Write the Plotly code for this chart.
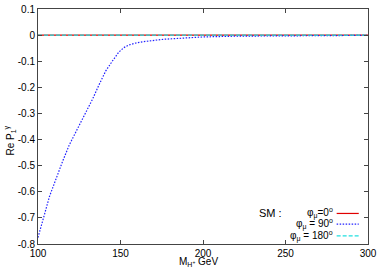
import plotly.graph_objects as go

# Data
mass = [100, 101, 104, 107, 111, 115, 119, 123, 125, 129, 133, 137, 141, 145,
        149, 152, 155, 160, 164, 176, 190, 200, 220, 250, 300]
re_p_90 = [-0.775, -0.75, -0.685, -0.617, -0.547, -0.482, -0.42, -0.37, -0.35, -0.30,
           -0.246, -0.19, -0.138, -0.10, -0.065, -0.048, -0.038, -0.029, -0.025, -0.016,
           -0.010, -0.007, -0.004, -0.002, -0.001]
mass_flat = [100, 300]
re_p_0 = [0, 0]
re_p_180 = [0, 0]

x_ticks = [100, 150, 200, 250, 300]
y_ticks = [0.1, 0, -0.1, -0.2, -0.3, -0.4, -0.5, -0.6, -0.7, -0.8]
y_labels = ["0.1", "0", "-0.1", "-0.2", "-0.3", "-0.4", "-0.5", "-0.6", "-0.7", "-0.8"]
legend_labels = ["φ<sub>μ</sub>=0<sup>o</sup>", "φ<sub>μ</sub> = 90<sup>o</sup>", "φ<sub>μ</sub> = 180<sup>o</sup>"]
legend_colors = ["#e00000", "#2020ff", "#20e0e0"]
legend_dash = ["solid", "1.5px,1.5px", "4px,2px"]

fig = go.Figure()
fig.add_trace(go.Scatter(x=mass_flat, y=re_p_0, mode="lines",
                         line=dict(color=legend_colors[0], width=1.2, dash=legend_dash[0])))
fig.add_trace(go.Scatter(x=mass, y=re_p_90, mode="lines",
                         line=dict(color=legend_colors[1], width=1.2, dash=legend_dash[1])))
fig.add_trace(go.Scatter(x=mass_flat, y=re_p_180, mode="lines",
                         line=dict(color=legend_colors[2], width=1.2, dash=legend_dash[2])))

font = dict(family="Liberation Sans, Arial, sans-serif", size=10, color="#000")

fig.update_layout(
    width=382, height=267,
    margin=dict(l=38, r=14, t=9, b=23, autoexpand=False),
    plot_bgcolor="white", paper_bgcolor="white",
    showlegend=False,
    font=font,
    xaxis=dict(range=[100, 300], tickvals=x_ticks, ticks="inside", ticklen=4,
               showline=True, linecolor="#444", linewidth=1, mirror="ticks",
               showgrid=False, zeroline=False, tickcolor="#444", automargin=False),
    yaxis=dict(range=[-0.8, 0.1], tickvals=y_ticks, ticktext=y_labels, ticks="inside",
               ticklen=4, showline=True, linecolor="#444", linewidth=1, mirror="ticks",
               showgrid=False, zeroline=False, tickcolor="#444", automargin=False),
)

annotations = [
    dict(text="M<sub>H<sup>+</sup></sub> GeV", xref="paper", yref="paper", x=0.485, y=-0.11,
         xanchor="center", yanchor="bottom", showarrow=False, font=font),
    dict(text="Re P<sub>1</sub><sup>γ</sup>", xref="paper", yref="paper", x=-0.085, y=0.44,
         xanchor="center", yanchor="middle", showarrow=False, textangle=-90, font=font),
    dict(text="SM :", xref="paper", yref="paper", x=0.705, y=0.13,
         xanchor="center", yanchor="middle", showarrow=False, font=dict(font, size=11)),
]
leg_y = [0.13, 0.085, 0.035]
for lab, yy in zip(legend_labels, leg_y):
    annotations.append(dict(text=lab, xref="paper", yref="paper", x=0.9, y=yy,
                            xanchor="right", yanchor="middle", showarrow=False, font=font))
shapes = []
for c, d, yy in zip(legend_colors, legend_dash, leg_y):
    shapes.append(dict(type="line", xref="paper", yref="paper", x0=0.905, x1=0.972,
                       y0=yy, y1=yy, line=dict(color=c, width=1.2, dash=d)))
fig.update_layout(annotations=annotations, shapes=shapes)

fig.write_html("out.html", config={"displayModeBar": False},
               post_script="document.body.style.margin='0';document.body.style.overflow='hidden';")
